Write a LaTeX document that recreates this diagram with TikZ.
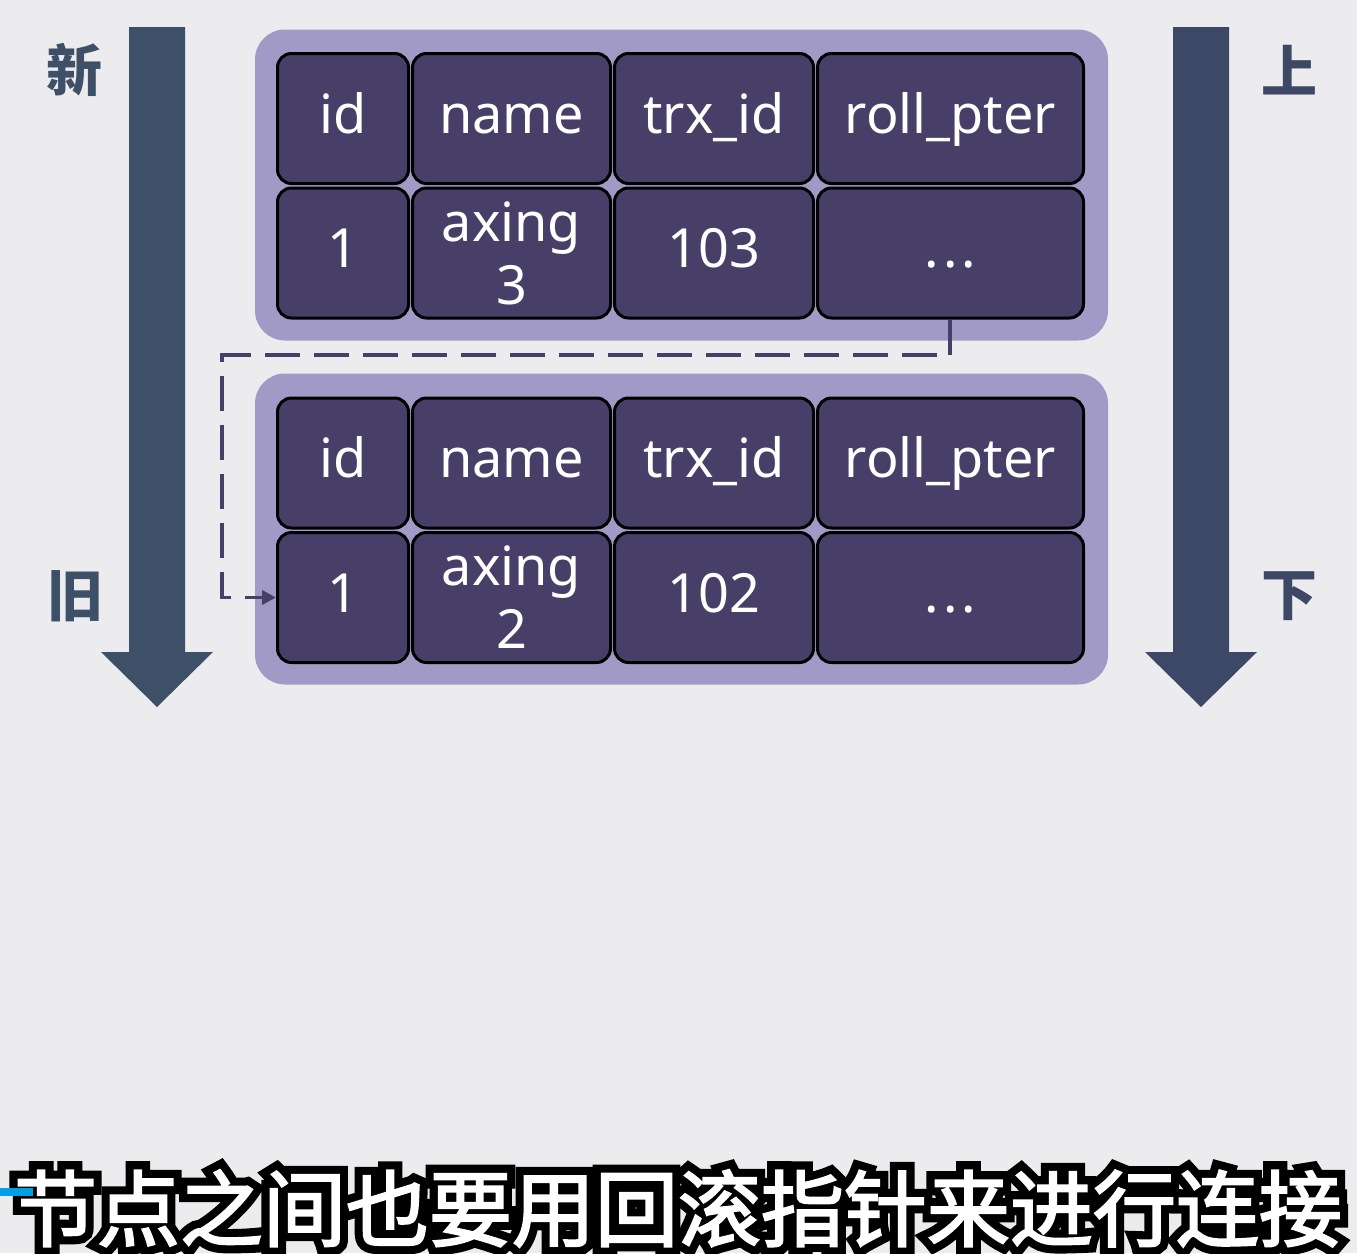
\documentclass[tikz,border=0pt]{standalone}
\usepackage{fontspec}
\usetikzlibrary{arrows.meta}
\setmainfont{Noto Sans}
\newfontfamily\cjkfont{Noto Sans CJK SC}
\newfontfamily\cjkwhite[FakeBold=2.5]{Noto Sans CJK SC}
\newfontfamily\cjkoutline[FakeBold=22]{Noto Sans CJK SC}
\definecolor{bgc}{RGB}{236,235,238}
\definecolor{cellc}{RGB}{71,63,103}
\definecolor{panelc}{RGB}{161,154,198}
\definecolor{arrowL}{RGB}{62,80,104}
\definecolor{arrowR}{RGB}{61,72,102}
\definecolor{barblue}{RGB}{0,160,230}
\tikzset{
  cell/.style={draw=black, line width=3pt, fill=cellc, rounded corners=14pt,
    text=white, font=\fontsize{54}{63}\selectfont, inner sep=0pt, align=center,
    minimum height=130pt},
  onel/.style={text height=41pt, text depth=12pt},
  wid/.style={minimum width=131pt},
  wname/.style={minimum width=198pt},
  wtrx/.style={minimum width=199pt},
  wroll/.style={minimum width=266pt},
  panel/.style={fill=panelc, rounded corners=30pt, inner sep=0pt,
    minimum width=853pt, minimum height=311pt},
  sidelabel/.style={font=\cjkfont\bfseries\fontsize{56}{60}\selectfont, inner sep=0pt},
  dashline/.style={draw=cellc, line width=3.5pt, dash pattern=on 35pt off 14pt,
    -{Triangle[length=14pt,width=14pt]}},
  subtitle/.style={anchor=base, inner sep=0pt, font=\fontsize{83}{90}\selectfont},
}
\begin{document}
\begin{tikzpicture}[x=1pt,y=-1pt]
\useasboundingbox (0,0) rectangle (1357,1253);
\clip (0,0) rectangle (1357,1253);
\fill[bgc] (0,0) rectangle (1357,1253);

% big arrows
\fill[arrowL] (129,27) -- (185,27) -- (185,652) -- (213,652) -- (157,707) -- (101,652) -- (129,652) -- cycle;
\fill[arrowR] (1173,27) -- (1229,27) -- (1229,652) -- (1257,652) -- (1201,707) -- (1145,652) -- (1173,652) -- cycle;

% side labels
\node[sidelabel, text=arrowL] (new) at (74,70) {新};
\node[sidelabel, text=arrowL] (old) at (75,596) {旧};
\node[sidelabel, text=arrowR] (up) at (1289,70) {上};
\node[sidelabel, text=arrowR] (down) at (1289,596) {下};

% panels
\node[panel] (p1) at (681.5,185) {};
\node[panel] (p2) at (681.5,529) {};

% top table
\node[cell, onel, wid]   (t1a) at (343,118.5) {id};
\node[cell, onel, wname] (t1b) at (511.5,118.5) {name};
\node[cell, onel, wtrx]  (t1c) at (714,118.5) {trx\_id};
\node[cell, onel, wroll] (t1d) at (950.5,118.5) {roll\_pter};
\node[cell, onel, wid]   (t2a) at (343,253) {1};
\node[cell, wname]       (t2b) at (511.5,253) {axing\\3};
\node[cell, onel, wtrx]  (t2c) at (714,253) {103};
\node[cell, onel, wroll] (t2d) at (950.5,253) {.\hspace{4pt}.\hspace{4pt}.};

% bottom table
\node[cell, onel, wid]   (b1a) at (343,463) {id};
\node[cell, onel, wname] (b1b) at (511.5,463) {name};
\node[cell, onel, wtrx]  (b1c) at (714,463) {trx\_id};
\node[cell, onel, wroll] (b1d) at (950.5,463) {roll\_pter};
\node[cell, onel, wid]   (b2a) at (343,597.5) {1};
\node[cell, wname]       (b2b) at (511.5,597.5) {axing\\2};
\node[cell, onel, wtrx]  (b2c) at (714,597.5) {102};
\node[cell, onel, wroll] (b2d) at (950.5,597.5) {.\hspace{4pt}.\hspace{4pt}.};

% roll pointer connector
\coordinate (c1) at (950,355);
\coordinate (c2) at (222,355);
\coordinate (c3) at (222,597.5);
\draw[dashline] (t2d.south -| c1) -- (c1) -- (c2) -- (c3) -- (b2a.west);

% subtitle: black outline layer under white text
\node[subtitle, text=black] (subshadow) at (678,1240)
  {\cjkoutline 节点之间也要用回滚指针来进行连接};
\node[subtitle, text=white] (sub) at (678,1240)
  {\cjkwhite 节点之间也要用回滚指针来进行连接};
\fill[barblue] (0,1188) rectangle (33,1196);
\end{tikzpicture}
\end{document}
